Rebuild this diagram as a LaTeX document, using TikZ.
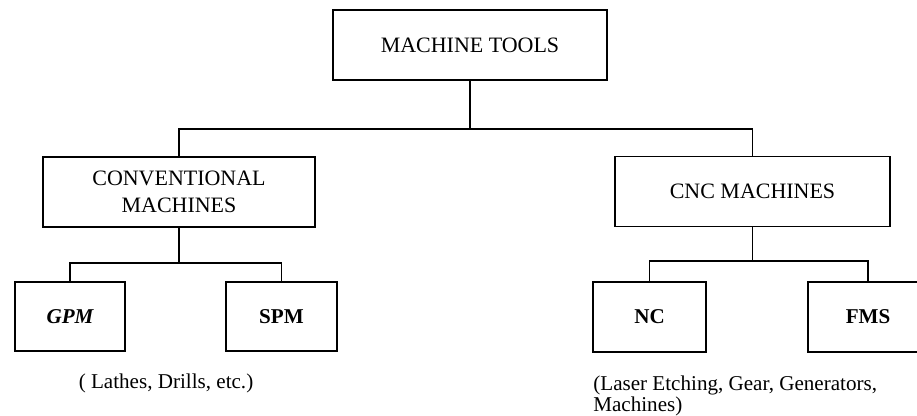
\documentclass[tikz,border=0pt]{standalone}
\usepackage{fontspec}
\setmainfont{Liberation Serif}
\usetikzlibrary{calc}

\begin{document}
\begin{tikzpicture}[
    box/.style={draw, line width=1.1pt, inner sep=0pt, align=center,
      font=\fontsize{12.5}{15}\selectfont},
    link/.style={line width=0.8pt},
    note/.style={inner sep=0pt, font=\fontsize{12}{11.5}\selectfont}]
  \clip (0,0) rectangle (18.34,8.30);

  % Top box
  \node[box, minimum width=5.48cm, minimum height=1.4cm] (tools) at (9.40,7.40) {MACHINE TOOLS};

  % Second level
  \node[box, minimum width=5.44cm, minimum height=1.4cm] (conv) at (3.58,4.46)
    {CONVENTIONAL\\MACHINES};
  \node[box, minimum width=5.50cm, minimum height=1.4cm] (cnc) at (15.05,4.47) {CNC MACHINES};

  % Third level
  \node[box, minimum width=2.20cm, minimum height=1.38cm, font=\fontsize{12}{14}\selectfont\bfseries\itshape]
    (gpm) at (1.40,1.97) {GPM};
  \node[box, minimum width=2.22cm, minimum height=1.38cm, font=\fontsize{12}{14}\selectfont\bfseries]
    (spm) at (5.63,1.97) {SPM};
  \node[box, minimum width=2.26cm, minimum height=1.40cm, font=\fontsize{12}{14}\selectfont\bfseries]
    (nc) at (12.99,1.96) {NC};
  % right side runs off the page
  \node[box, minimum width=2.40cm, minimum height=1.40cm, font=\fontsize{12}{14}\selectfont\bfseries]
    (fms) at (17.36,1.96) {FMS};

  % Notes under the boxes
  \node[note, anchor=base] (gpmnote) at (3.32,0.54) {( Lathes, Drills, etc.)};
  \node[note, anchor=north west, align=left] (ncnote) at (11.86,0.78)
    {(Laser Etching, Gear, Generators,\\Machines)};

  % Bus lines
  \coordinate (topbus) at (0,5.72);
  \coordinate (leftbus) at (0,3.04);
  \coordinate (rightbus) at (0,3.08);

  \draw[link] (tools.south) -- (tools.south |- topbus);
  \draw[link] (conv.north) -- (conv.north |- topbus) -- (cnc.north |- topbus) -- (cnc.north);

  \draw[link] (conv.south) -- (conv.south |- leftbus);
  \draw[link] (gpm.north) -- (gpm.north |- leftbus) -- (spm.north |- leftbus) -- (spm.north);

  \draw[link] (cnc.south) -- (cnc.south |- rightbus);
  \draw[link] (nc.north) -- (nc.north |- rightbus) -- (fms.north |- rightbus) -- (fms.north);
\end{tikzpicture}
\end{document}
